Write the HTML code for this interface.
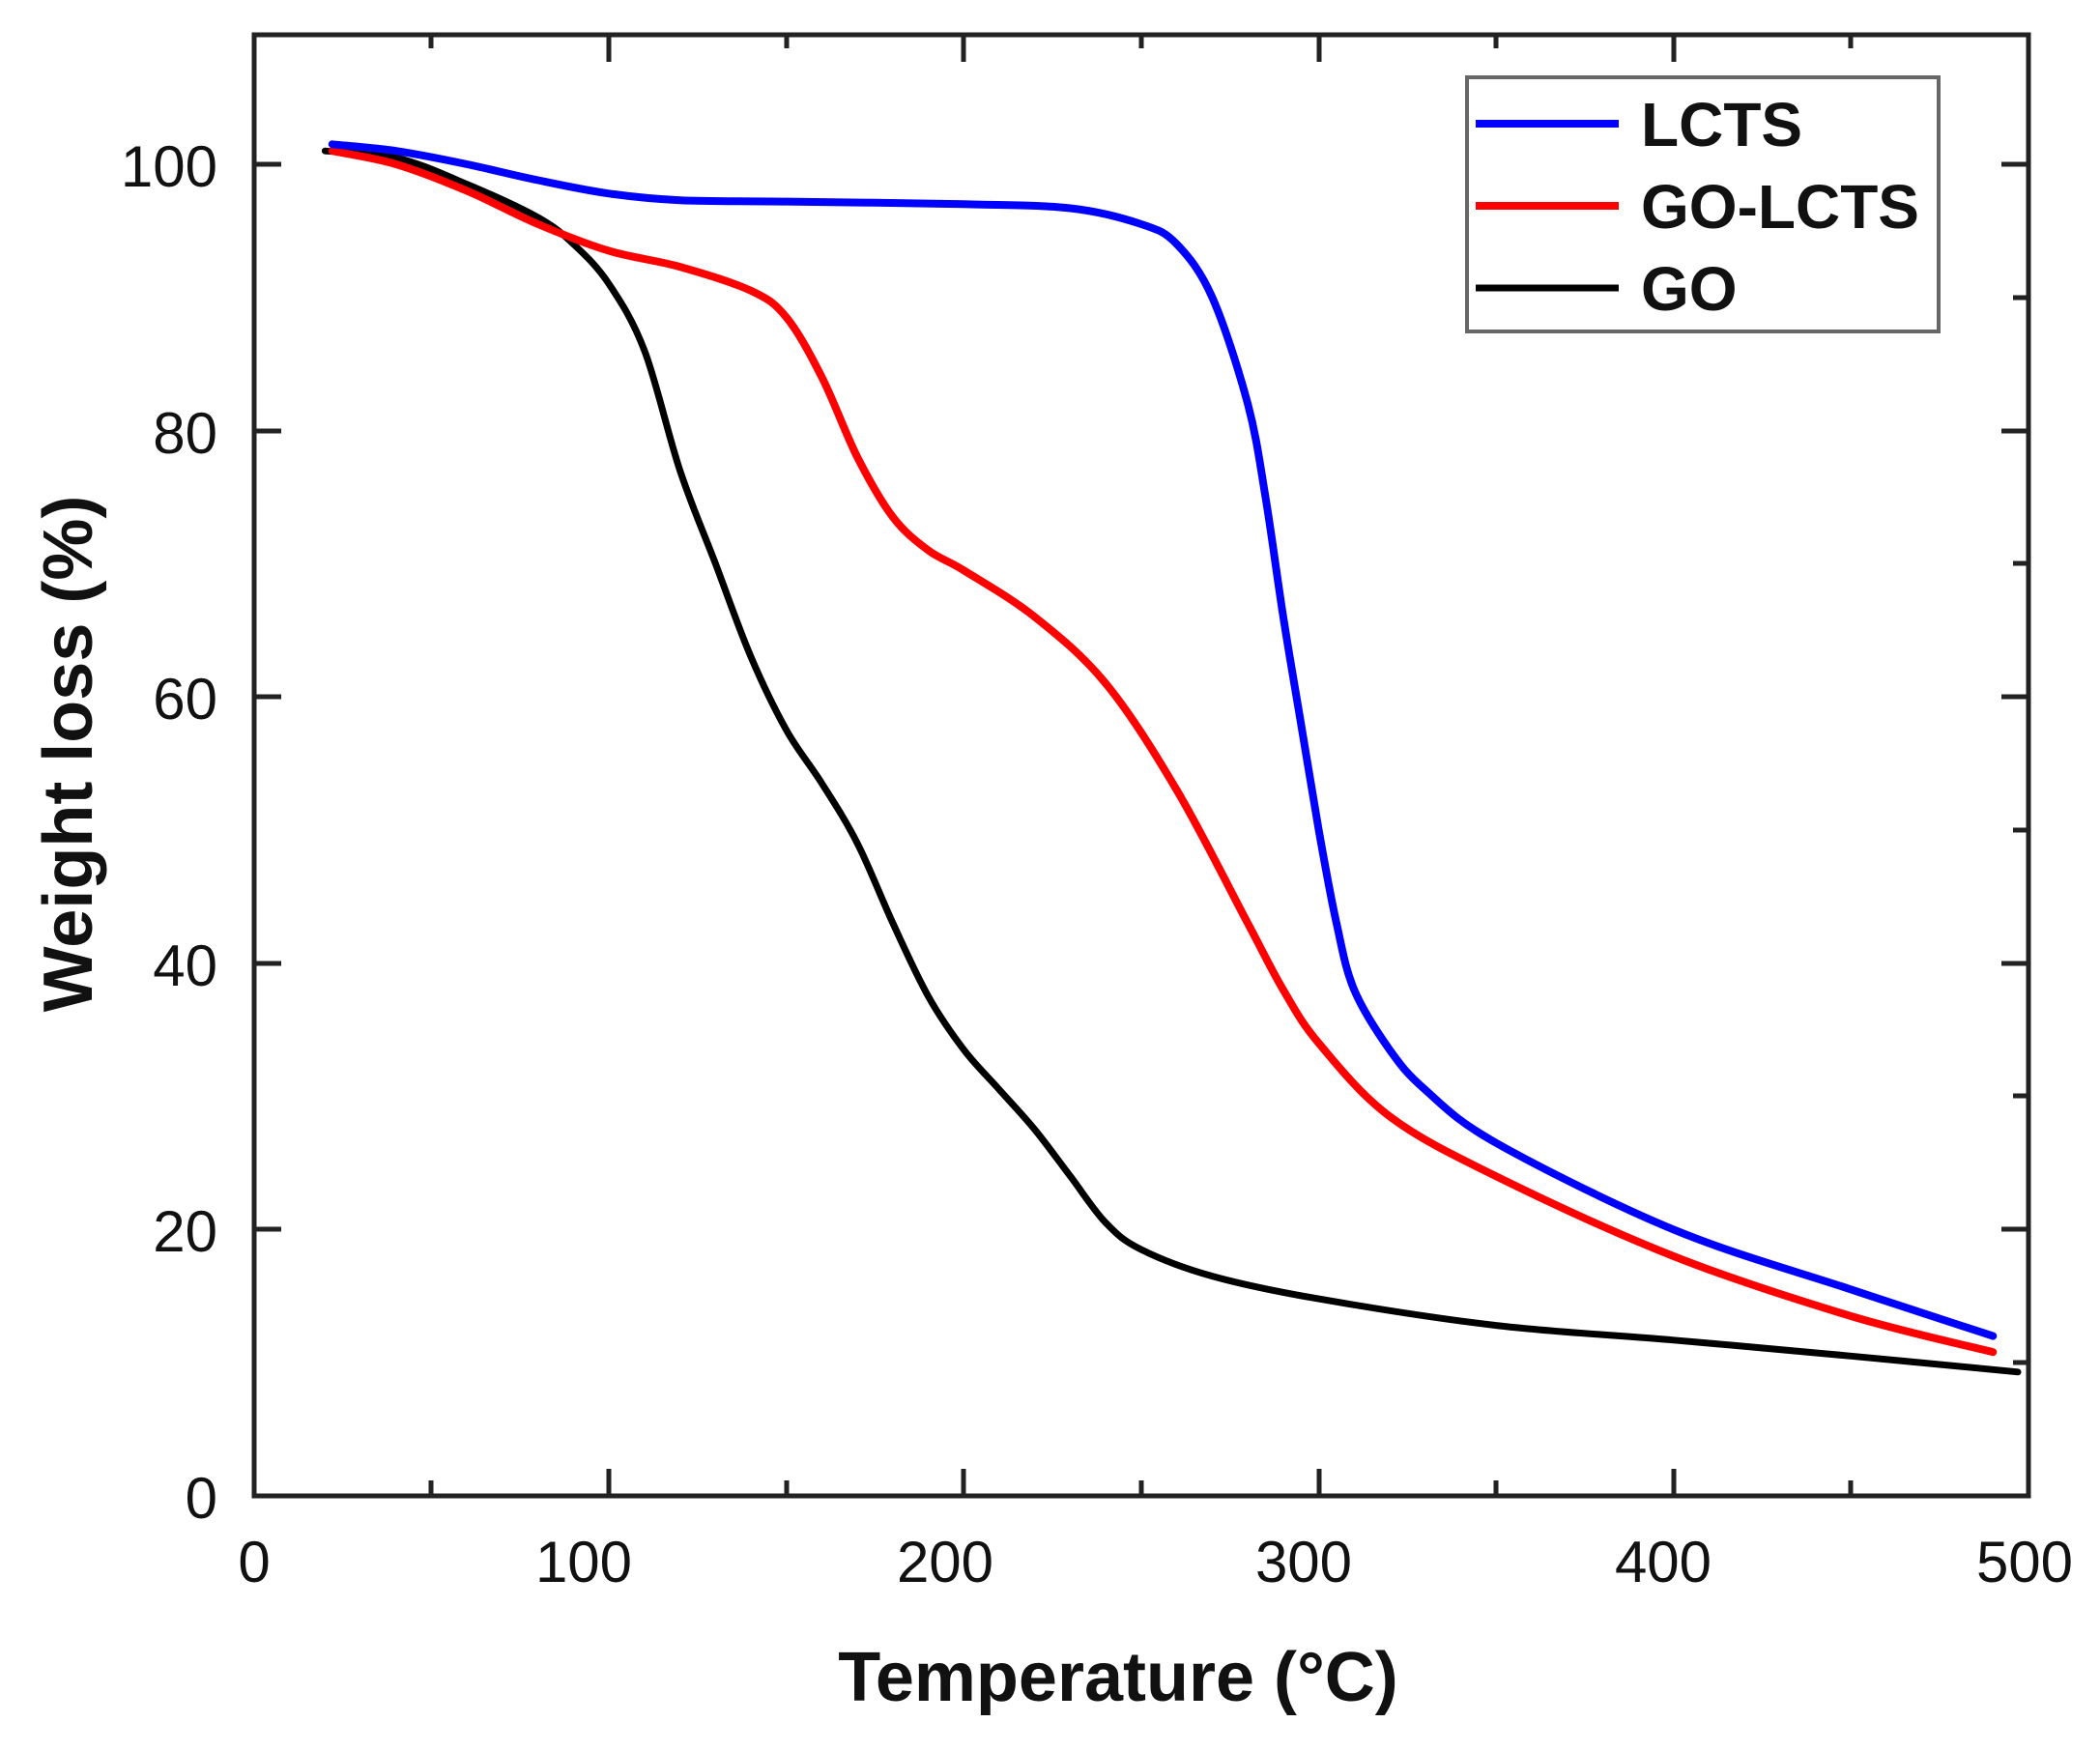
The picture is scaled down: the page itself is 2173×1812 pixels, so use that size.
<!DOCTYPE html>
<html><head><meta charset="utf-8"><style>
html,body{margin:0;padding:0;background:#fff;}
svg{display:block;}
text{font-family:"Liberation Sans",Arial,sans-serif;fill:#111;}
</style></head><body>
<svg width="2173" height="1812" viewBox="0 0 2173 1812" xmlns="http://www.w3.org/2000/svg">
<rect width="2173" height="1812" fill="#fff"/>
<rect x="263" y="36" width="1836" height="1512" fill="none" stroke="#222" stroke-width="5"/>
<g stroke="#222" stroke-width="5">
<line x1="263" y1="1548" x2="263" y2="1520"/>
<line x1="630" y1="1548" x2="630" y2="1520"/>
<line x1="997" y1="1548" x2="997" y2="1520"/>
<line x1="1365" y1="1548" x2="1365" y2="1520"/>
<line x1="1732" y1="1548" x2="1732" y2="1520"/>
<line x1="446" y1="1548" x2="446" y2="1532"/>
<line x1="814" y1="1548" x2="814" y2="1532"/>
<line x1="1181" y1="1548" x2="1181" y2="1532"/>
<line x1="1548" y1="1548" x2="1548" y2="1532"/>
<line x1="1915" y1="1548" x2="1915" y2="1532"/>
<line x1="630" y1="36" x2="630" y2="64"/>
<line x1="997" y1="36" x2="997" y2="64"/>
<line x1="1365" y1="36" x2="1365" y2="64"/>
<line x1="1732" y1="36" x2="1732" y2="64"/>
<line x1="446" y1="36" x2="446" y2="50"/>
<line x1="814" y1="36" x2="814" y2="50"/>
<line x1="1181" y1="36" x2="1181" y2="50"/>
<line x1="1548" y1="36" x2="1548" y2="50"/>
<line x1="1915" y1="36" x2="1915" y2="50"/>
<line x1="263" y1="1272" x2="291" y2="1272"/>
<line x1="263" y1="997" x2="291" y2="997"/>
<line x1="263" y1="721" x2="291" y2="721"/>
<line x1="263" y1="446" x2="291" y2="446"/>
<line x1="263" y1="170" x2="291" y2="170"/>
<line x1="2099" y1="1272" x2="2071" y2="1272"/>
<line x1="2099" y1="997" x2="2071" y2="997"/>
<line x1="2099" y1="721" x2="2071" y2="721"/>
<line x1="2099" y1="446" x2="2071" y2="446"/>
<line x1="2099" y1="170" x2="2071" y2="170"/>
<line x1="2099" y1="1410" x2="2083" y2="1410"/>
<line x1="2099" y1="1134" x2="2083" y2="1134"/>
<line x1="2099" y1="859" x2="2083" y2="859"/>
<line x1="2099" y1="583" x2="2083" y2="583"/>
<line x1="2099" y1="308" x2="2083" y2="308"/>
</g>
<g font-size="60" text-anchor="middle">
<text x="263" y="1637">0</text>
<text x="604" y="1637">100</text>
<text x="978" y="1637">200</text>
<text x="1349" y="1637">300</text>
<text x="1721" y="1637">400</text>
<text x="2095" y="1637">500</text>
</g>
<g font-size="60" text-anchor="end">
<text x="225" y="1571">0</text>
<text x="225" y="1295">20</text>
<text x="225" y="1020">40</text>
<text x="225" y="744">60</text>
<text x="225" y="469">80</text>
<text x="225" y="193">100</text>
</g>
<text x="1157" y="1760" font-size="72" font-weight="bold" text-anchor="middle">Temperature (°C)</text>
<text transform="translate(95,780) rotate(-90)" font-size="72" font-weight="bold" text-anchor="middle">Weight loss (%)</text>
<g fill="none" stroke-linejoin="round" stroke-linecap="round">
<path id="go" stroke="#000" stroke-width="7"/>
<path id="gol" stroke="#ff0000" stroke-width="8"/>
<path id="lc" stroke="#0000ff" stroke-width="8"/>
</g>
<rect x="1518" y="80" width="488" height="263" fill="none" stroke="#666" stroke-width="4"/>
<line x1="1527" y1="128" x2="1675" y2="128" stroke="#0000ff" stroke-width="8"/>
<line x1="1527" y1="213" x2="1675" y2="213" stroke="#ff0000" stroke-width="8"/>
<line x1="1527" y1="298" x2="1675" y2="298" stroke="#000" stroke-width="7"/>
<g font-size="64" font-weight="bold">
<text x="1698" y="151">LCTS</text>
<text x="1698" y="236">GO-LCTS</text>
<text x="1698" y="321">GO</text>
</g>
</svg>
<script>
function px(p){return [263+3.672*p[0],1548-13.78*p[1]];}
function path(d){
 var P=d.map(px),s="M"+P[0][0].toFixed(1)+","+P[0][1].toFixed(1);
 for(var i=0;i<P.length-1;i++){
  var p0=P[i-1]||P[i],p1=P[i],p2=P[i+1],p3=P[i+2]||p2;
  var c1=[p1[0]+(p2[0]-p0[0])/6,p1[1]+(p2[1]-p0[1])/6];
  var c2=[p2[0]-(p3[0]-p1[0])/6,p2[1]-(p3[1]-p1[1])/6];
  s+=" C"+c1[0].toFixed(1)+","+c1[1].toFixed(1)+" "+c2[0].toFixed(1)+","+c2[1].toFixed(1)+" "+p2[0].toFixed(1)+","+p2[1].toFixed(1);
 }
 return s;
}
var GO=[[20,101],[40,100.5],[60,98.5],[80,96],[90,94],[100,91],[110,86],[120,77],[130,70],[140,63],[150,57.5],[160,53.5],[170,49],[180,43],[190,37.5],[200,33.5],[210,30.5],[220,27.5],[230,24],[240,20.5],[250,18.5],[270,16.5],[300,14.8],[350,12.8],[400,11.7],[450,10.5],[497,9.3]];
var GOL=[[22,101],[40,100],[60,98],[80,95.5],[100,93.5],[120,92.3],[140,90.5],[150,88.5],[160,84],[170,78],[180,73.5],[190,71],[200,69.5],[220,66],[240,61],[260,53],[280,43],[290,38],[300,34],[320,28.5],[350,24],[400,18],[450,13.5],[490,10.8]];
var LC=[[22,101.5],[40,101],[60,100],[80,98.8],[100,97.8],[120,97.3],[150,97.2],[200,97],[230,96.7],[250,95.5],[260,94],[270,90],[280,82],[285,75],[290,66],[295,58],[300,50],[305,43],[310,38],[320,33.5],[330,30.5],[350,26.5],[400,20],[450,15.5],[490,12]];
document.getElementById("go").setAttribute("d",path(GO));
document.getElementById("gol").setAttribute("d",path(GOL));
document.getElementById("lc").setAttribute("d",path(LC));
</script>
</body></html>
